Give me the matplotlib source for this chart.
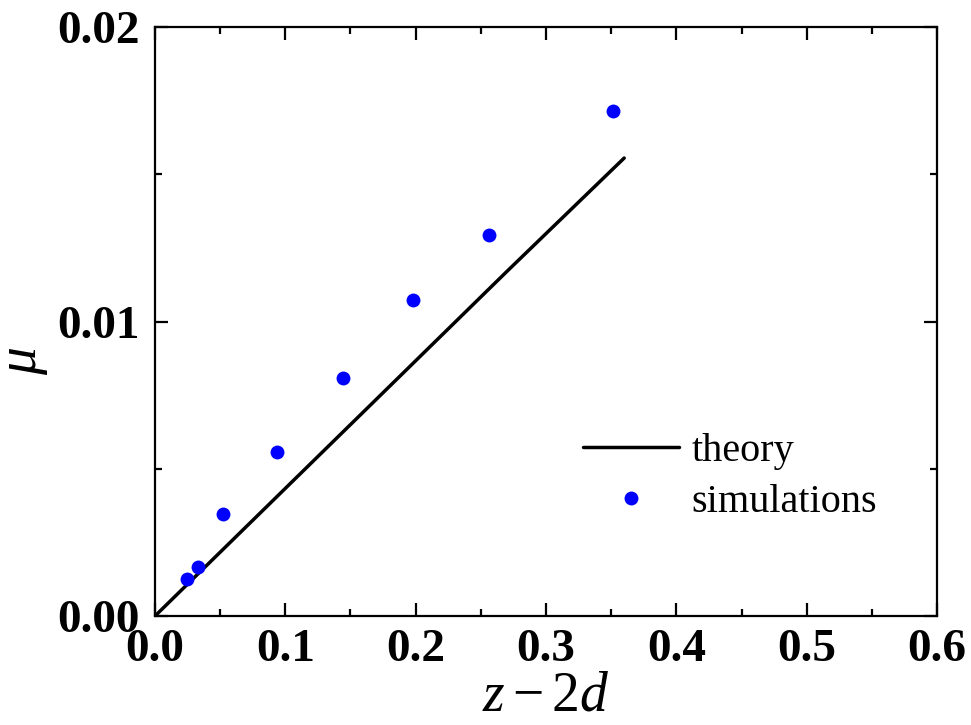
import matplotlib
matplotlib.use("Agg")
import matplotlib.pyplot as plt
from matplotlib.ticker import MultipleLocator, FormatStrFormatter

# data
theory_x = [0.0, 0.09, 0.18, 0.27, 0.36]
theory_mu = [0.0, 0.0039, 0.0078, 0.0117, 0.01555]

sim_x = [0.0246, 0.033, 0.0522, 0.0936, 0.1443, 0.198, 0.2563, 0.3515]
sim_mu = [0.00126, 0.00166, 0.00346, 0.00557, 0.00808, 0.01073, 0.01294, 0.01715]

x_ticks = [0.0, 0.1, 0.2, 0.3, 0.4, 0.5, 0.6]
y_ticks = [0.00, 0.01, 0.02]

plt.rcParams["font.family"] = ["Liberation Serif", "DejaVu Serif"]
plt.rcParams["mathtext.fontset"] = "custom"
plt.rcParams["mathtext.rm"] = "Liberation Serif"
plt.rcParams["mathtext.it"] = "Liberation Serif:italic"

fig = plt.figure(figsize=(9.71, 7.25), dpi=100)
ax = fig.add_axes([0.1596, 0.1503, 0.8054, 0.8125])

ax.plot(theory_x, theory_mu, color="black", lw=2.5, solid_capstyle="round", label="theory")
ax.plot(sim_x, sim_mu, "o", color="#0000ff", ms=10, mec="none", label="simulations")

ax.set_xlim(0, 0.6)
ax.set_ylim(0, 0.02)
ax.set_xticks(x_ticks)
ax.set_yticks(y_ticks)
ax.xaxis.set_major_formatter(FormatStrFormatter("%.1f"))
ax.yaxis.set_major_formatter(FormatStrFormatter("%.2f"))
ax.xaxis.set_minor_locator(MultipleLocator(0.05))
ax.yaxis.set_minor_locator(MultipleLocator(0.005))

for s in ax.spines.values():
    s.set_linewidth(1.6)
ax.tick_params(which="both", direction="in", top=True, right=True, width=1.6)
ax.tick_params(which="major", length=9.5)
ax.tick_params(which="minor", length=5)
ax.tick_params(axis="x", pad=9)
ax.tick_params(axis="y", pad=11)
for lab in ax.get_xticklabels() + ax.get_yticklabels():
    lab.set_fontsize(34)
    lab.set_fontweight("bold")

ax.set_xlabel(r"$z - 2d$", fontsize=40, labelpad=0)
ax.set_ylabel(r"$\mu$", fontsize=40)
ax.yaxis.set_label_coords(-0.134, 0.433)

ax.legend(loc="upper left", bbox_to_anchor=(0.547, 0.311), frameon=False,
          fontsize=29, handlelength=2.4, handletextpad=0.3, labelspacing=0.35,
          borderaxespad=0, borderpad=0)

fig.savefig("out.png", dpi=100)
